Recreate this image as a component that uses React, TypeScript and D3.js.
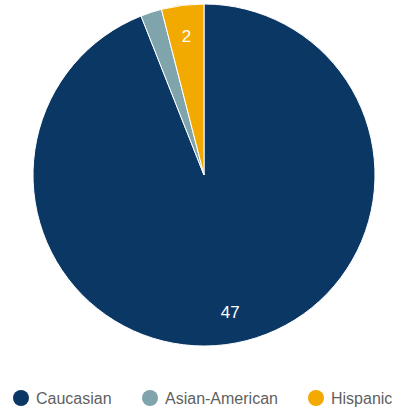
import React from "react";
import * as d3 from "d3";

const categories = ["Caucasian", "Asian-American", "Hispanic"];
const values = [47, 1, 2];
const labels = ["47", "", "2"];
const colors = ["#0b3764", "#7fa4ab", "#f2a900"];

export default function App() {
  const W = 396, H = 410;
  const cx = 204, cy = 175, R = 171;
  const pie = d3.pie<number>().sort(null).value((d) => d)(values);
  const arc = d3.arc<d3.PieArcDatum<number>>().innerRadius(0).outerRadius(R);
  const labelArc = d3.arc<d3.PieArcDatum<number>>().innerRadius(140).outerRadius(140);
  const legendX = [21, 150, 316];
  return (
    <svg width={W} height={H} style={{ position: "absolute", left: 0, top: 0, fontFamily: "Arial, 'Liberation Sans', sans-serif" }}>
      <g transform={`translate(${cx},${cy})`}>
        {pie.map((p, i) => (
          <path key={i} d={arc(p) || ""} fill={colors[i]} stroke="#fff" strokeWidth={1} />
        ))}
        {pie.map((p, i) => {
          if (!labels[i]) return null;
          const [x, y] = labelArc.centroid(p);
          return (
            <text key={i} x={x} y={y} fill="#fff" fontSize={17} textAnchor="middle" dominantBaseline="central">
              {labels[i]}
            </text>
          );
        })}
      </g>
      {categories.map((c, i) => (
        <g key={c} transform={`translate(${legendX[i]},398)`}>
          <circle cx={0} cy={0} r={8} fill={colors[i]} />
          <text x={15} y={0} fontSize={16} fill="#5f5f5f" dominantBaseline="central">{c}</text>
        </g>
      ))}
    </svg>
  );
}
